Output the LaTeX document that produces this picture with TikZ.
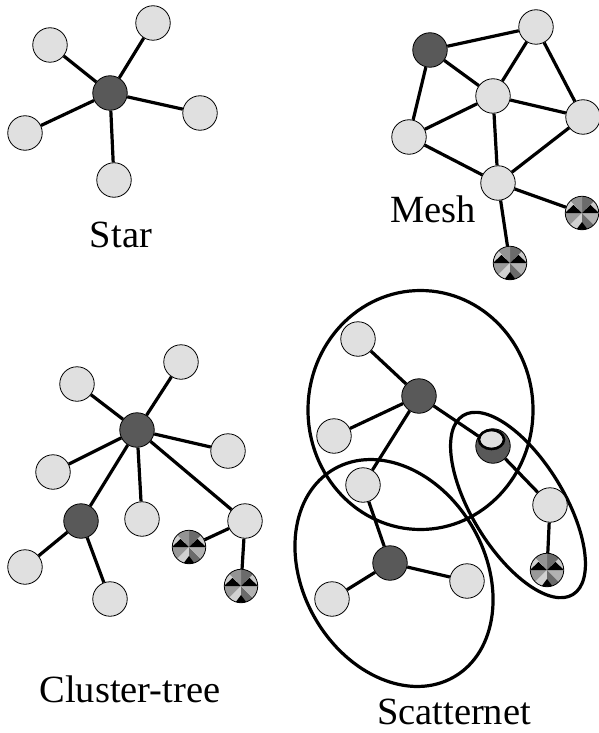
\documentclass[tikz,border=0pt]{standalone}
\usepackage{fontspec}
\setmainfont{Liberation Serif}
\usetikzlibrary{shapes.geometric}
\newcommand{\mypatfill}{%
  \begin{scope}[shift={(path picture bounding box.center)}]
    \fill[black!20] (0pt,0pt) -- (0:26pt) -- (45:26pt) -- cycle;
    \fill[black!58] (0pt,0pt) -- (45:26pt) -- (90:26pt) -- cycle;
    \fill[black!42] (0pt,0pt) -- (90:26pt) -- (135:26pt) -- cycle;
    \fill[black!18] (0pt,0pt) -- (135:26pt) -- (180:26pt) -- cycle;
    \fill[black!40] (0pt,0pt) -- (180:26pt) -- (225:26pt) -- cycle;
    \fill[black!18] (0pt,0pt) -- (225:26pt) -- (270:26pt) -- cycle;
    \fill[black!58] (0pt,0pt) -- (270:26pt) -- (315:26pt) -- cycle;
    \fill[black!30] (0pt,0pt) -- (315:26pt) -- (360:26pt) -- cycle;
    \fill[black] (-17pt,0pt) -- (0pt,0pt) -- (-8.5pt,8pt) -- cycle;
    \fill[black] (0pt,0pt) -- (17pt,0pt) -- (8.5pt,8pt) -- cycle;
    \fill[black] (-6pt,-17pt) -- (6pt,-17pt) -- (0pt,-9pt) -- cycle;
  \end{scope}}
\begin{document}
\begin{tikzpicture}[x=1pt,y=-1pt,
  edge/.style={line width=3.2pt},
  ring/.style={line width=3.2pt},
  basenode/.style={circle, draw=black, line width=0.8pt, minimum size=34.5pt, inner sep=0pt},
  lnode/.style={basenode, fill=black!12},
  dnode/.style={basenode, fill=black!65},
  pnode/.style={basenode, minimum size=33.5pt, path picture={\mypatfill}},
  lab/.style={font=\fontsize{38.5}{46}\selectfont, anchor=base, inner sep=0pt, text depth=0pt}]
\useasboundingbox (0,0) rectangle (599,733);

% ---------- Star ----------
\node[dnode] (sC) at (110,93) {};
\node[lnode] (s1) at (50,45) {};
\node[lnode] (s2) at (153,23) {};
\node[lnode] (s3) at (200,113) {};
\node[lnode] (s4) at (25,133) {};
\node[lnode] (s5) at (114,180) {};
\foreach \n in {s1,s2,s3,s4,s5} \draw[edge] (sC) -- (\n);
\node[lab] (lstar) at (121,247) {Star};

% ---------- Mesh ----------
\node[dnode] (m0) at (430,50) {};
\node[lnode] (m1) at (536,27) {};
\node[lnode] (mc) at (493,96) {};
\node[lnode] (m3) at (583,117) {};
\node[lnode] (m4) at (409,137) {};
\node[lnode] (m5) at (498,183) {};
\node[pnode] (mp1) at (582,213) {};
\node[pnode] (mp2) at (510,263) {};
\draw[edge] (m0) -- (m1);
\draw[edge] (m0) -- (mc);
\draw[edge] (m0) -- (m4);
\draw[edge] (m1) -- (mc);
\draw[edge] (m1) -- (m3);
\draw[edge] (mc) -- (m4);
\draw[edge] (mc) -- (m3);
\draw[edge] (mc) -- (m5);
\draw[edge] (m4) -- (m5);
\draw[edge] (m3) -- (m5);
\draw[edge] (m5) -- (mp1);
\draw[edge] (m5) -- (mp2);
\node[lab] (lmesh) at (433,222) {Mesh};

% ---------- Cluster-tree ----------
\node[dnode] (cC) at (137,430) {};
\node[lnode] (c1) at (77,384) {};
\node[lnode] (c2) at (181,362) {};
\node[lnode] (c3) at (228,451) {};
\node[lnode] (c4) at (53,472) {};
\node[lnode] (c5) at (142,519) {};
\node[dnode] (cD) at (81,521) {};
\node[lnode] (c6) at (25,567) {};
\node[lnode] (c7) at (110,599) {};
\node[lnode] (c8) at (245,521) {};
\node[pnode] (cp1) at (189,547) {};
\node[pnode] (cp2) at (241,586) {};
\foreach \n in {c1,c2,c3,c4,c5,cD,c8} \draw[edge] (cC) -- (\n);
\draw[edge] (cD) -- (c6);
\draw[edge] (cD) -- (c7);
\draw[edge] (c8) -- (cp1);
\draw[edge] (c8) -- (cp2);
\node[lab] (lclus) at (130,702) {Cluster-tree};

% ---------- Scatternet ----------
\draw[ring] (420.5,410) ellipse [x radius=112.5pt, y radius=119.5pt];
\draw[ring, rotate around={30:(394,573)}] (394,573) ellipse [x radius=91pt, y radius=120pt];
\draw[ring, rotate around={31.5:(518,505)}] (518,505) ellipse [x radius=46pt, y radius=105pt];

\node[dnode] (tD) at (419,396) {};
\node[lnode] (t1) at (358,339) {};
\node[lnode] (t2) at (334,436) {};
\node[lnode] (t3) at (363,485) {};
\node[dnode] (tB) at (493,446) {};
\node[ellipse, draw=black, line width=2.6pt, fill=black!12, minimum width=25pt, minimum height=19pt, inner sep=0pt] (tBi) at (491.5,439.5) {};
\node[lnode] (t4) at (550,505) {};
\node[pnode] (tp) at (547,570) {};
\node[dnode] (tD2) at (390,563) {};
\node[lnode] (t5) at (332,599) {};
\node[lnode] (t6) at (467,581) {};
\draw[edge] (tD) -- (t1);
\draw[edge] (tD) -- (t2);
\draw[edge] (tD) -- (t3);
\draw[edge] (tD) -- (tB);
\draw[edge] (tB) -- (t4);
\draw[edge] (t4) -- (tp);
\draw[edge] (t3) -- (tD2);
\draw[edge] (tD2) -- (t5);
\draw[edge] (tD2) -- (t6);
\node[lab] (lscat) at (454,724) {Scatternet};
\end{tikzpicture}
\end{document}
